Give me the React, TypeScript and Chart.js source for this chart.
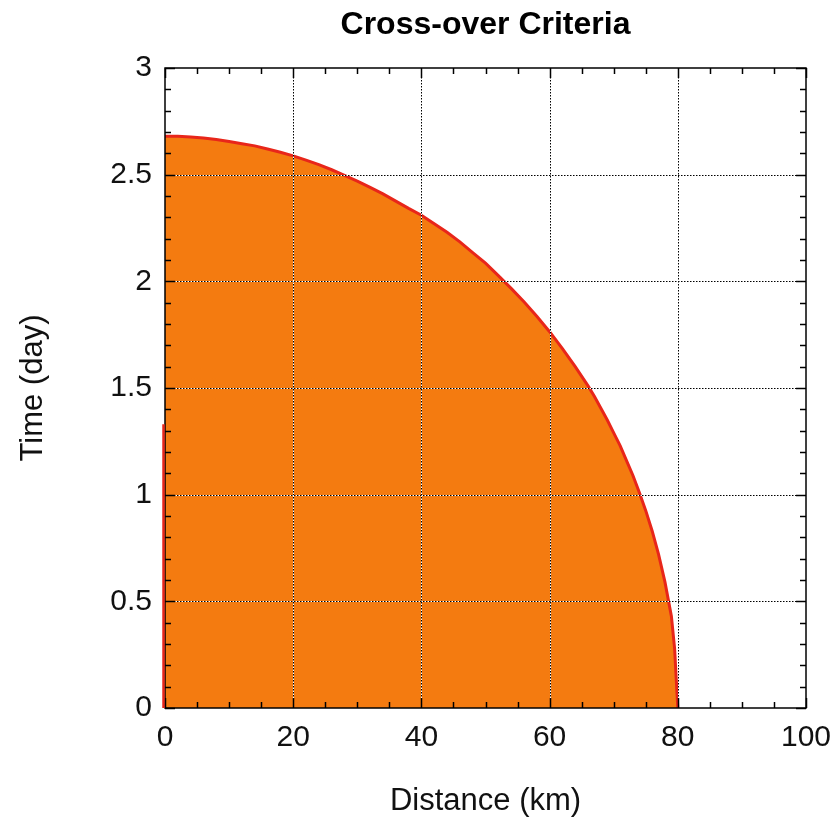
import React, { useEffect, useRef } from "react";
import { Chart, registerables } from "chart.js";

Chart.register(...registerables);

// Cross-over boundary (distance in km, time in days)
const distanceKm = [
  0, 2, 4, 6, 8, 10, 12, 14, 16, 18, 20, 22, 24, 26, 28, 30, 32, 34, 36, 38,
  40, 42, 44, 46, 48, 50, 52, 54, 56, 58, 60, 62, 64, 66, 67, 68, 69, 70, 71,
  72, 73, 74, 75, 76, 77, 78, 79, 79.5, 80,
];
const timeDay = [
  2.68, 2.68, 2.677, 2.672, 2.665, 2.655, 2.645, 2.635, 2.62, 2.605, 2.588,
  2.568, 2.547, 2.523, 2.497, 2.47, 2.44, 2.41, 2.376, 2.342, 2.31, 2.27, 2.23,
  2.185, 2.135, 2.085, 2.027, 1.967, 1.904, 1.836, 1.764, 1.685, 1.6, 1.51,
  1.46, 1.405, 1.35, 1.29, 1.23, 1.16, 1.09, 1.01, 0.925, 0.83, 0.72, 0.59,
  0.43, 0.28, 0,
];
// Red segment along the time axis
const edgeDistance = [0, 0];
const edgeTime = [0, 1.33];

const xTicks = [0, 20, 40, 60, 80, 100];
const yTicks = [0, 0.5, 1, 1.5, 2, 2.5, 3];
const xMinorStep = 5;
const yMinorStep = 0.1;

const FONT = '"Liberation Sans", Arial, Helvetica, sans-serif';
const FILL = "#F47B10";
const LINE = "#E8261A";

const framePlugin = {
  id: "frame",
  afterDatasetsDraw(chart: any) {
    const { ctx, chartArea: a, scales } = chart;
    const xs = scales.x;
    const ys = scales.y;
    ctx.save();
    const seg = (x1: number, y1: number, x2: number, y2: number) => {
      ctx.beginPath();
      ctx.moveTo(x1, y1);
      ctx.lineTo(x2, y2);
      ctx.stroke();
    };
    // dotted grid lines over the data
    const grid = (x1: number, y1: number, x2: number, y2: number) => {
      ctx.lineWidth = 1;
      ctx.setLineDash([]);
      ctx.strokeStyle = "#ffffff";
      seg(x1, y1, x2, y2);
      ctx.setLineDash([1.5, 1.5]);
      ctx.strokeStyle = "#000000";
      seg(x1, y1, x2, y2);
      ctx.setLineDash([]);
    };
    xTicks.slice(1, -1).forEach((v) => {
      const px = Math.round(xs.getPixelForValue(v)) + 0.5;
      grid(px, a.top, px, a.bottom);
    });
    yTicks.slice(1, -1).forEach((v) => {
      const py = Math.round(ys.getPixelForValue(v)) + 0.5;
      grid(a.left, py, a.right, py);
    });
    // ticks (inward, all four sides)
    ctx.strokeStyle = "#000";
    ctx.lineWidth = 1.5;
    const majorLen = 10;
    const minorLen = 6;
    const xMin = xTicks[0];
    const xMax = xTicks[xTicks.length - 1];
    for (let i = 0; xMin + i * xMinorStep <= xMax + 1e-9; i++) {
      const v = xMin + i * xMinorStep;
      const isMajor = xTicks.some((t) => Math.abs(t - v) < 1e-9);
      const len = isMajor ? majorLen : minorLen;
      const px = Math.round(xs.getPixelForValue(v)) + 0.5;
      seg(px, a.bottom, px, a.bottom - len);
      seg(px, a.top, px, a.top + len);
    }
    const yMin = yTicks[0];
    const yMax = yTicks[yTicks.length - 1];
    const nY = Math.round((yMax - yMin) / yMinorStep);
    for (let i = 0; i <= nY; i++) {
      const v = yMin + i * yMinorStep;
      const isMajor = yTicks.some((t) => Math.abs(t - v) < 1e-6);
      const len = isMajor ? majorLen : minorLen;
      const py = Math.round(ys.getPixelForValue(v)) + 0.5;
      seg(a.left, py, a.left + len, py);
      seg(a.right, py, a.right - len, py);
    }
    // frame
    ctx.lineWidth = 1.5;
    ctx.strokeRect(a.left, a.top, a.right - a.left, a.bottom - a.top);
    // red edge segment drawn on top
    ctx.strokeStyle = LINE;
    ctx.lineWidth = 2.5;
    const ex0 = xs.getPixelForValue(edgeDistance[0]) - 1.5;
    const ex1 = xs.getPixelForValue(edgeDistance[1]) - 1.5;
    seg(ex0, ys.getPixelForValue(edgeTime[0]), ex1, ys.getPixelForValue(edgeTime[1]));
    ctx.restore();
  },
};

export default function App() {
  const ref = useRef<HTMLCanvasElement>(null);
  useEffect(() => {
    if (!ref.current) return;
    const chart = new Chart(ref.current, {
      type: "line",
      data: {
        datasets: [
          {
            label: "Cross-over",
            data: distanceKm.map((d, i) => ({ x: d, y: timeDay[i] })),
            borderColor: LINE,
            backgroundColor: FILL,
            borderWidth: 3,
            fill: "origin",
            pointRadius: 0,
            tension: 0,
            clip: 4,
          } as any,
        ],
      },
      options: {
        responsive: false,
        maintainAspectRatio: false,
        animation: false,
        devicePixelRatio: 1,
        layout: { padding: { left: 0, right: 32, top: 0, bottom: 0 } },
        plugins: {
          legend: { display: false },
          tooltip: { enabled: false },
          title: {
            display: true,
            fullSize: false,
            text: "Cross-over Criteria",
            color: "#000",
            font: { family: FONT, size: 32, weight: "bold", lineHeight: 1.2 },
            padding: { top: 6, bottom: 23.6 },
          },
        },
        scales: {
          x: {
            type: "linear",
            min: xTicks[0],
            max: xTicks[xTicks.length - 1],
            afterBuildTicks: (s: any) => {
              s.ticks = xTicks.map((v) => ({ value: v }));
            },
            afterFit: (s: any) => {
              s.height = 117;
              s.paddingLeft = 0;
              s.paddingRight = 0;
            },
            grid: { display: false, drawTicks: false },
            border: { display: false },
            ticks: {
              color: "#111",
              font: { family: FONT, size: 30 },
              padding: 12,
              maxRotation: 0,
              callback: (v: any) => String(v),
            },
            title: {
              display: true,
              text: "Distance (km)",
              color: "#111",
              font: { family: FONT, size: 31, lineHeight: 1.2 },
              padding: { top: 0, bottom: 5 },
            },
          },
          y: {
            type: "linear",
            min: yTicks[0],
            max: yTicks[yTicks.length - 1],
            afterBuildTicks: (s: any) => {
              s.ticks = yTicks.map((v) => ({ value: v }));
            },
            afterFit: (s: any) => {
              s.width = 165;
            },
            grid: { display: false, drawTicks: false },
            border: { display: false },
            ticks: {
              color: "#111",
              font: { family: FONT, size: 30 },
              padding: 13,
              callback: (v: any) => String(v),
            },
            title: {
              display: true,
              text: "Time (day)",
              color: "#111",
              font: { family: FONT, size: 31, lineHeight: 1.2 },
              padding: { top: 15, bottom: 0 },
            },
          },
        },
      },
      plugins: [framePlugin],
    });
    return () => chart.destroy();
  }, []);
  return (
    <canvas
      ref={ref}
      width={838}
      height={825}
      style={{ position: "absolute", left: 0, top: 0, display: "block", width: 838, height: 825 }}
    />
  );
}
